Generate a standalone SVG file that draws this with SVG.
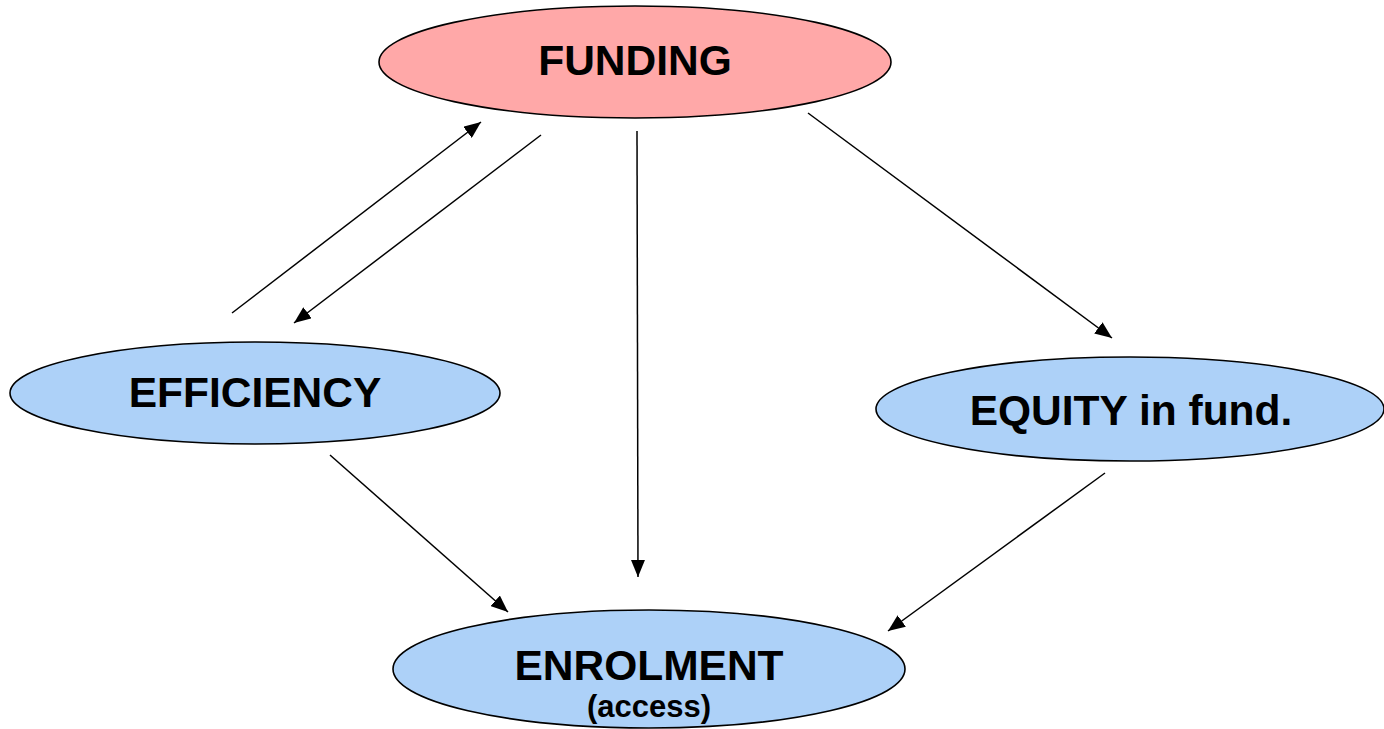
<svg xmlns="http://www.w3.org/2000/svg" width="1384" height="729" viewBox="0 0 1384 729">
<style>
.node{stroke:#000;stroke-width:1.6}
.pink{fill:#FFA8A8}
.blue{fill:#ADD1F8}
.lbl{font-family:"Liberation Sans",Arial,sans-serif;font-weight:bold;fill:#000;text-anchor:middle}
.big{font-size:42.5px}
.small{font-size:31px}
.edge{stroke:#000;stroke-width:1.5;fill:none;marker-end:url(#ah)}
</style>
<defs>
<marker id="ah" markerUnits="userSpaceOnUse" markerWidth="18" markerHeight="14" viewBox="0 0 18 14" refX="17" refY="7" orient="auto">
<path d="M0,0 L17,7 L0,14 z" fill="#000"/>
</marker>
</defs>
<rect width="1384" height="729" fill="#fff"/>
<g id="connectors">
<line class="edge" x1="232" y1="313" x2="481" y2="122"/>
<line class="edge" x1="541" y1="135" x2="294" y2="323"/>
<line class="edge" x1="637" y1="131" x2="638" y2="577"/>
<line class="edge" x1="808" y1="113" x2="1112" y2="338"/>
<line class="edge" x1="330" y1="455" x2="508" y2="612"/>
<line class="edge" x1="1105" y1="473" x2="888" y2="631"/>
</g>
<g id="funding">
<ellipse class="node pink" cx="635" cy="62" rx="256" ry="56"/>
<text class="lbl big" x="635" y="75">FUNDING</text>
</g>
<g id="efficiency">
<ellipse class="node blue" cx="255" cy="393" rx="245" ry="51"/>
<text class="lbl big" x="255" y="407">EFFICIENCY</text>
</g>
<g id="equity">
<ellipse class="node blue" cx="1130" cy="409" rx="254" ry="52"/>
<text class="lbl big" x="1131" y="425">EQUITY in fund.</text>
</g>
<g id="enrolment">
<ellipse class="node blue" cx="649" cy="669" rx="256" ry="59"/>
<text class="lbl big" x="649" y="680">ENROLMENT</text>
<text class="lbl small" x="649" y="717">(access)</text>
</g>
</svg>
